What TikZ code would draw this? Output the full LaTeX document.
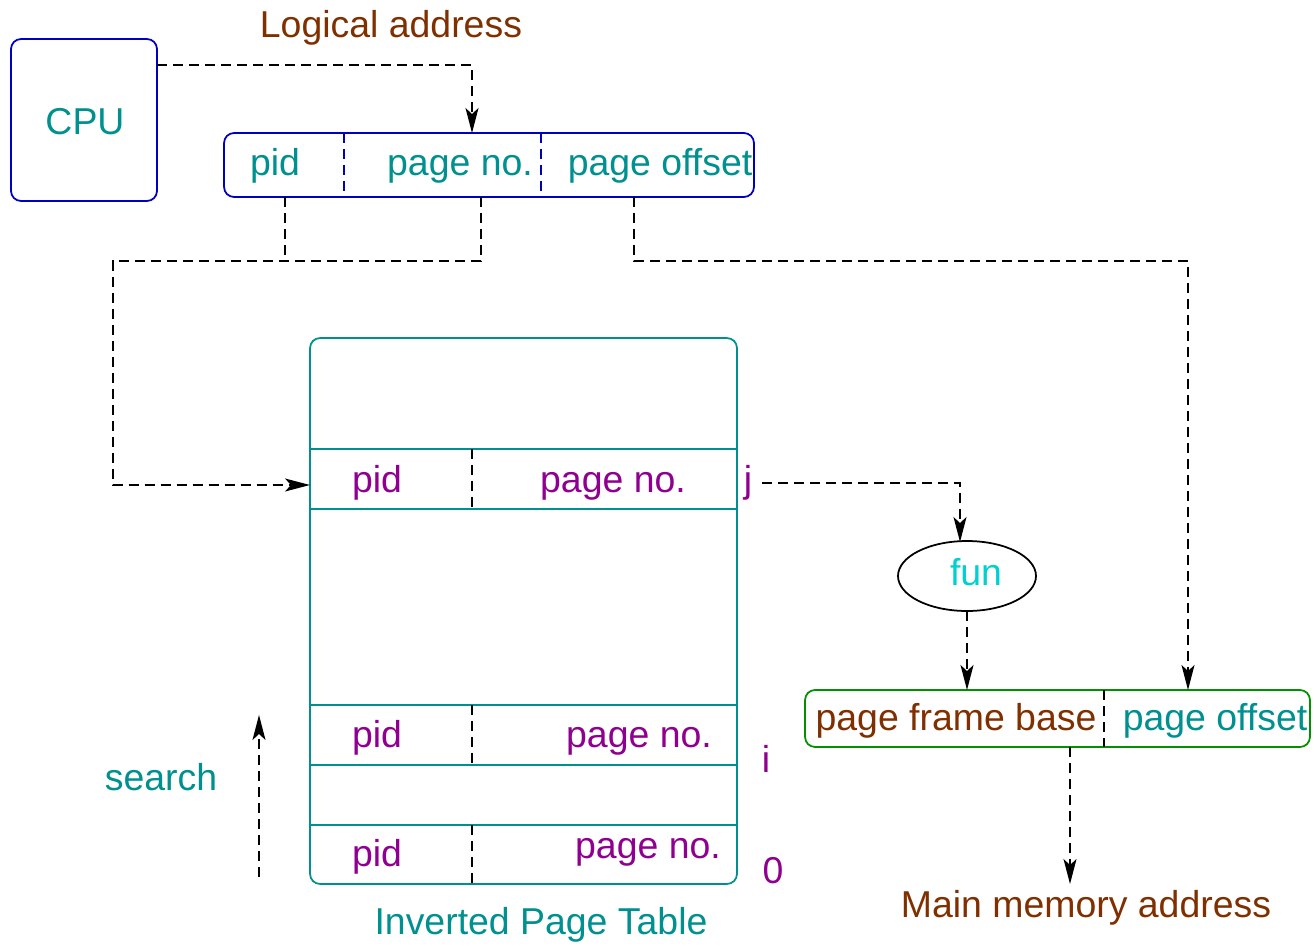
\documentclass[tikz,border=0pt]{standalone}
\usepackage{fontspec}
\setmainfont{Liberation Sans}
\usetikzlibrary{arrows.meta,shapes.geometric}
\definecolor{tealc}{RGB}{0,144,144}
\definecolor{purp}{RGB}{144,0,144}
\definecolor{brownc}{RGB}{128,48,0}
\definecolor{bluec}{RGB}{0,0,192}
\definecolor{greenc}{RGB}{0,144,0}
\definecolor{cyanc}{RGB}{0,208,208}
\begin{document}
\begin{tikzpicture}[x=0.02cm,y=-0.02cm,
  lbl/.style={font=\fontsize{21.3}{25}\selectfont, inner sep=0pt, anchor=base},
  link/.style={draw=black, line width=0.85pt, dash pattern=on 0.2cm off 0.12cm},
  tip/.style={-{Stealth[length=0.5cm,width=0.26cm,inset=0.12cm]}},
  frame/.style={draw, rounded corners=0.2cm, line width=1pt, inner sep=0pt},
  sep/.style={line width=0.85pt, dash pattern=on 0.2cm off 0.12cm},
  rule/.style={draw=tealc, line width=1pt}]
\useasboundingbox (0,0) rectangle (1314,946);

% CPU
\node[frame, draw=bluec, minimum width=2.92cm, minimum height=3.24cm] (cpu) at (84,120) {};
\node[lbl, tealc] (cputxt) at (85,134) {CPU};
\node[lbl, brownc] (logtxt) at (391,38) {Logical address};

% logical address register
\node[frame, draw=bluec, minimum width=10.6cm, minimum height=1.28cm] (addr) at (489,165) {};
\draw[sep, bluec] (344,133) -- (344,197);
\draw[sep, bluec] (541,133) -- (541,197);
\node[lbl, tealc] (apid) at (275,175) {pid};
\node[lbl, tealc] (apn) at (460,175) {page no.};
\node[lbl, tealc] (aoff) at (660,175) {page offset};

% inverted page table
\node[frame, draw=tealc, minimum width=8.54cm, minimum height=10.92cm] (ipt) at (523.5,611) {};
\foreach \yy in {449,509,705,765,825} \draw[rule] (310,\yy) -- (737,\yy);
\draw[sep] (472,449) -- (472,509);
\draw[sep] (472,705) -- (472,765);
\draw[sep] (472,825) -- (472,884);
\node[lbl, purp] (jpid) at (377,492) {pid};
\node[lbl, purp] (jpn) at (613,492) {page no.};
\node[lbl, purp] (ipid) at (377,747) {pid};
\node[lbl, purp] (ipn) at (639,747) {page no.};
\node[lbl, purp] (zpid) at (377,866) {pid};
\node[lbl, purp] (zpn) at (648,858) {page no.};
\node[lbl, purp] (jlab) at (748,492) {j};
\node[lbl, purp] (ilab) at (766,772) {i};
\node[lbl, purp] (zlab) at (773,883) {0};
\node[lbl, tealc] (ipttxt) at (541,934) {Inverted Page Table};
\node[lbl, tealc] (srch) at (161,790) {search};

% hash function
\node[ellipse, draw=black, line width=1pt, minimum width=2.76cm, minimum height=1.4cm, inner sep=0pt] (fun) at (967,576) {};
\node[lbl, cyanc] (funtxt) at (976,585) {fun};

% physical address register
\node[frame, draw=greenc, minimum width=10.1cm, minimum height=1.14cm] (phys) at (1057.5,718.5) {};
\draw[sep] (1104,690) -- (1104,747);
\node[lbl, brownc] (pfb) at (956,730) {page frame base};
\node[lbl, tealc] (poff) at (1215,730) {page offset};
\node[lbl, brownc] (mma) at (1086,917) {Main memory address};

% connector ends
\coordinate (cpuout) at (157,65);
\coordinate (pnin) at (472,133);
\coordinate (pidout) at (285,197);
\coordinate (pnout) at (481,197);
\coordinate (busl) at (113,261);
\coordinate (rowj) at (310,485);
\coordinate (offout) at (634,197);
\coordinate (offbend) at (1188,261);
\coordinate (poffin) at (1188,690);
\coordinate (jout) at (762,483);
\coordinate (funin) at (960,542);
\coordinate (funout) at (967,611);
\coordinate (pfbin) at (967,690);
\coordinate (physout) at (1070,747);
\coordinate (mmain) at (1070,884);
\coordinate (srchlo) at (259,877);
\coordinate (srchhi) at (259,715);

% connectors
\draw[link, tip] (cpuout) -| (pnin);
\draw[link] (pidout) -- (pidout |- busl);
\draw[link, tip] (pnout) |- (busl) |- (rowj);
\draw[link, tip] (offout) |- (offbend) -- (poffin);
\draw[link, tip] (jout) -| (funin);
\draw[link, tip] (funout) -- (pfbin);
\draw[link, tip] (physout) -- (mmain);
\draw[link, tip] (srchlo) -- (srchhi);
\end{tikzpicture}
\end{document}
